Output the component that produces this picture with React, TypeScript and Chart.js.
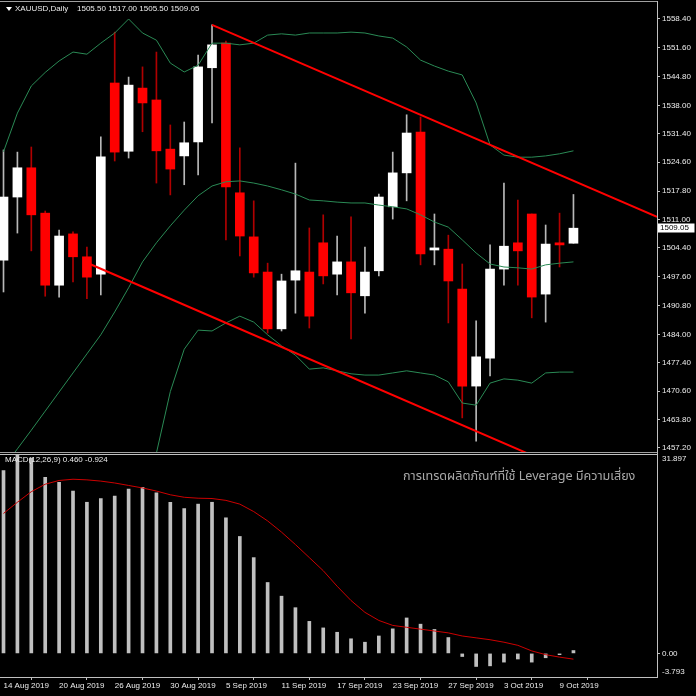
import React, { useEffect, useRef } from "react";
import { Chart, registerables } from "chart.js";

Chart.register(...registerables);

// ---------- data ----------
const dateTickIndex = [0, 4, 8, 12, 16, 20, 24, 28, 32, 36, 40];
const dateTickLabels = [
  "14 Aug 2019", "20 Aug 2019", "26 Aug 2019", "30 Aug 2019", "5 Sep 2019",
  "11 Sep 2019", "17 Sep 2019", "23 Sep 2019", "27 Sep 2019", "3 Oct 2019", "9 Oct 2019",
];

const opens = [
  1501.5, 1516.4, 1523.3, 1512.6, 1495.6, 1507.7, 1502.3, 1498.2, 1543.3, 1527.2,
  1542.1, 1539.3, 1527.7, 1526.1, 1529.4, 1546.9, 1552.7, 1517.4, 1507.0, 1498.7,
  1485.3, 1496.8, 1498.7, 1505.6, 1498.2, 1501.1, 1493.1, 1499.0, 1514.1, 1522.1,
  1531.7, 1503.9, 1504.1, 1494.7, 1471.8, 1478.4, 1499.4, 1505.6, 1512.4, 1493.5,
  1505.6, 1505.5,
];
const highs = [
  1527.5, 1527.0, 1528.2, 1513.1, 1508.6, 1508.2, 1504.6, 1530.6, 1555.3, 1544.7,
  1547.1, 1550.6, 1533.4, 1534.1, 1549.9, 1557.0, 1553.2, 1528.0, 1515.5, 1500.8,
  1498.2, 1524.4, 1509.1, 1512.2, 1507.2, 1511.7, 1504.6, 1517.1, 1527.0, 1535.8,
  1535.3, 1512.4, 1507.4, 1500.6, 1487.2, 1505.1, 1519.7, 1515.7, 1512.4, 1509.8,
  1512.6, 1517.0,
];
const lows = [
  1494.0, 1507.9, 1503.7, 1493.0, 1492.8, 1496.4, 1492.4, 1493.3, 1524.9, 1525.6,
  1531.8, 1519.7, 1516.9, 1519.3, 1521.6, 1533.9, 1506.3, 1502.5, 1497.5, 1484.3,
  1484.8, 1489.0, 1485.5, 1495.9, 1493.3, 1482.9, 1489.0, 1497.8, 1511.2, 1515.5,
  1500.4, 1500.4, 1486.7, 1464.3, 1458.8, 1474.2, 1495.6, 1495.6, 1487.9, 1486.9,
  1499.9, 1505.5,
];
const closes = [
  1516.4, 1523.3, 1512.2, 1495.6, 1507.2, 1502.3, 1497.5, 1525.9, 1527.0, 1542.8,
  1538.6, 1527.3, 1523.0, 1529.2, 1547.1, 1552.3, 1518.8, 1507.2, 1498.5, 1485.3,
  1496.6, 1499.0, 1488.3, 1497.8, 1501.1, 1493.8, 1498.7, 1516.4, 1522.1, 1531.5,
  1503.0, 1504.4, 1496.6, 1471.8, 1478.7, 1499.4, 1504.8, 1503.7, 1492.8, 1505.3,
  1505.1, 1509.05,
];

const bbUpper = [
  1527.1, 1536.2, 1542.6, 1545.8, 1548.5, 1550.6, 1550.1, 1552.7, 1555.1, 1558.4,
  1555.1, 1553.4, 1548.0, 1545.9, 1547.5, 1552.7, 1552.7, 1552.3, 1552.7, 1554.6,
  1554.9, 1554.6, 1555.1, 1555.1, 1555.1, 1555.3, 1555.1, 1554.4, 1553.9, 1551.8,
  1548.7, 1547.3, 1546.1, 1545.2, 1538.6, 1528.7, 1526.3, 1525.8, 1525.8, 1526.1,
  1526.6, 1527.3,
];
const bbMiddle = [
  1452.5, 1457.0, 1461.4, 1465.9, 1470.4, 1474.9, 1479.4, 1483.9, 1489.3, 1495.0,
  1501.1, 1505.6, 1509.6, 1513.3, 1516.7, 1519.0, 1520.0, 1520.2, 1519.7, 1519.0,
  1518.1, 1517.1, 1515.7, 1515.5, 1515.2, 1515.0, 1515.0, 1514.5, 1514.1, 1513.6,
  1512.2, 1510.5, 1509.3, 1506.3, 1503.2, 1500.6, 1499.9, 1499.7, 1499.4, 1500.4,
  1500.8, 1501.1,
];
const bbLower: (number | null)[] = [
  null, null, null, null, null, null, null, null, null, null,
  1435.5, 1456.0, 1470.5, 1480.5, 1485.0, 1484.8, 1486.7, 1488.3, 1486.9, 1483.9,
  1481.3, 1479.1, 1475.8, 1476.1, 1475.4, 1474.7, 1474.4, 1474.4, 1474.9, 1475.4,
  1474.9, 1474.4, 1472.8, 1467.8, 1467.3, 1472.5, 1473.5, 1473.2, 1472.5, 1474.9,
  1475.1, 1475.1,
];

const channelUpperBars = [15, 47.01];
const channelUpperPrices = [1557.0, 1511.75];
const channelLowerBars = [6, 47.01];
const channelLowerPrices = [1500.9, 1442.7];

const macdMain = [
  29.4, 31.897, 31.4, 28.3, 27.5, 26.1, 24.3, 24.9, 25.3, 26.4,
  26.7, 25.8, 24.3, 23.3, 24.0, 24.3, 21.8, 18.8, 15.4, 11.4,
  9.2, 7.35, 5.15, 4.1, 3.4, 2.35, 1.8, 2.8, 3.95, 5.7,
  4.7, 3.85, 2.55, -0.5, -2.1, -2.0, -1.4, -0.9, -1.4, -0.7,
  -0.2, 0.46,
];
const macdSignal = [
  22.5, 24.3, 26.0, 27.2, 27.8, 28.0, 27.9, 27.7, 27.4, 27.0,
  26.6, 26.1, 25.5, 25.1, 24.95, 24.9, 24.6, 24.0, 22.8, 21.3,
  19.5, 17.5, 15.4, 13.3, 10.8, 8.5, 6.6, 5.3, 4.5, 4.2,
  3.9, 3.6, 3.3, 2.8, 2.5, 2.2, 1.8, 1.3, 0.4, -0.2,
  -0.6, -0.924,
];

const priceTicks = [
  1558.4, 1551.6, 1544.8, 1538.0, 1531.4, 1524.6, 1517.8, 1511.0,
  1504.4, 1497.6, 1490.8, 1484.0, 1477.4, 1470.6, 1463.8, 1457.2,
];
const macdTickLabels = ["31.897", "0.00", "-3.793"];

// ---------- layout constants ----------
const X_MIN = -0.252;
const X_MAX = 47.01;
const PRICE_MAX = 1562.41;
const PRICE_MIN = 1456.25;
const MACD_MAX = 31.897;
const MACD_MIN = -3.793;
const MACD_AREA_H = 222;
const AXIS_W = 39;
const FONT = '"Liberation Sans", Arial, sans-serif';
const TXT = "#ececec";
const AXIS_C = "#c0c0c0";

const idx = closes.map((_, i) => i);
const isBull = (i: number) => closes[i] >= opens[i];

const fixRightAxis = (s: any) => {
  s.width = AXIS_W;
  s.paddingTop = 0;
  s.paddingBottom = 0;
};

const lastPricePlugin = {
  id: "lastPrice",
  afterDraw(chart: any) {
    const last = closes[closes.length - 1];
    const y = chart.scales.y.getPixelForValue(last);
    const x0 = chart.chartArea.right;
    const ctx = chart.ctx;
    ctx.save();
    ctx.fillStyle = "#ffffff";
    ctx.fillRect(x0 + 0.5, Math.round(y) - 4.5, 37, 9);
    ctx.fillStyle = "#000000";
    ctx.font = `8px ${FONT}`;
    ctx.textBaseline = "middle";
    ctx.textAlign = "left";
    ctx.fillText(last.toFixed(2), x0 + 3, Math.round(y));
    ctx.restore();
  },
};

export default function App() {
  const mainRef = useRef<HTMLCanvasElement>(null);
  const macdRef = useRef<HTMLCanvasElement>(null);

  useEffect(() => {
    const main = new Chart(mainRef.current as HTMLCanvasElement, {
      type: "bar",
      data: {
        datasets: [
          {
            type: "bar",
            data: idx.map((i) => ({ x: i, y: [opens[i], closes[i]] })) as any,
            backgroundColor: idx.map((i) => (isBull(i) ? "#ffffff" : "#ff0000")),
            barThickness: 9,
            minBarLength: 2,
            grouped: false,
            borderWidth: 0,
            order: 2,
          } as any,
          {
            type: "bar",
            data: idx.map((i) => ({ x: i, y: [lows[i], highs[i]] })) as any,
            backgroundColor: idx.map((i) => (isBull(i) ? "#b8b8b8" : "#b00000")),
            barThickness: 1,
            grouped: false,
            borderWidth: 0,
            order: 3,
          } as any,
          {
            type: "line",
            data: idx.map((i) => ({ x: i, y: bbUpper[i] })),
            borderColor: "#2a8a55",
            borderWidth: 1,
            pointRadius: 0,
            order: 1,
          } as any,
          {
            type: "line",
            data: idx.map((i) => ({ x: i, y: bbMiddle[i] })),
            borderColor: "#2a8a55",
            borderWidth: 1,
            pointRadius: 0,
            order: 1,
          } as any,
          {
            type: "line",
            data: idx.map((i) => ({ x: i, y: bbLower[i] })),
            borderColor: "#2a8a55",
            borderWidth: 1,
            pointRadius: 0,
            spanGaps: false,
            order: 1,
          } as any,
          {
            type: "line",
            data: channelUpperBars.map((b, k) => ({ x: b, y: channelUpperPrices[k] })),
            borderColor: "#ff0000",
            borderWidth: 2,
            pointRadius: 0,
            order: 0,
          } as any,
          {
            type: "line",
            data: channelLowerBars.map((b, k) => ({ x: b, y: channelLowerPrices[k] })),
            borderColor: "#ff0000",
            borderWidth: 2,
            pointRadius: 0,
            order: 0,
          } as any,
        ],
      },
      options: {
        animation: false,
        responsive: false,
        maintainAspectRatio: false,
        events: [],
        layout: { padding: 0 },
        plugins: { legend: { display: false }, tooltip: { enabled: false } },
        scales: {
          x: { type: "linear", display: false, min: X_MIN, max: X_MAX, offset: false },
          y: {
            type: "linear",
            position: "right",
            min: PRICE_MIN,
            max: PRICE_MAX,
            afterBuildTicks: (s: any) => {
              s.ticks = priceTicks.map((v) => ({ value: v }));
            },
            afterFit: fixRightAxis,
            grid: { drawOnChartArea: false, color: AXIS_C, tickLength: 3 },
            border: { color: AXIS_C },
            ticks: {
              autoSkip: false,
              color: TXT,
              padding: 2,
              font: { family: FONT, size: 8 },
              callback: (v: any) => Number(v).toFixed(2),
            },
          },
        },
      } as any,
      plugins: [lastPricePlugin],
    });

    const unit = (MACD_MAX - MACD_MIN) / MACD_AREA_H;
    const macdTickValues = [MACD_MAX - 4 * unit, 0, MACD_MIN + 5 * unit];

    const macd = new Chart(macdRef.current as HTMLCanvasElement, {
      type: "bar",
      data: {
        datasets: [
          {
            type: "line",
            data: idx.map((i) => ({ x: i, y: macdSignal[i] })),
            borderColor: "#cc0000",
            borderWidth: 1,
            pointRadius: 0,
            order: 0,
          } as any,
          {
            type: "bar",
            data: idx.map((i) => ({ x: i, y: macdMain[i] })),
            backgroundColor: "#c0c0c0",
            barThickness: 3,
            grouped: false,
            borderWidth: 0,
            order: 1,
          } as any,
        ],
      },
      options: {
        animation: false,
        responsive: false,
        maintainAspectRatio: false,
        events: [],
        layout: { padding: 0 },
        plugins: { legend: { display: false }, tooltip: { enabled: false } },
        scales: {
          x: {
            type: "linear",
            position: "bottom",
            min: X_MIN,
            max: X_MAX,
            offset: false,
            afterBuildTicks: (s: any) => {
              s.ticks = dateTickIndex.map((v) => ({ value: v }));
            },
            afterFit: (s: any) => {
              s.height = 18;
              s.paddingLeft = 0;
              s.paddingRight = 0;
            },
            grid: { drawOnChartArea: false, color: AXIS_C, tickLength: 3 },
            border: { color: AXIS_C },
            ticks: {
              autoSkip: false,
              maxRotation: 0,
              minRotation: 0,
              align: "start",
              padding: 1,
              color: TXT,
              font: { family: FONT, size: 8 },
              callback: (_v: any, i: number) => dateTickLabels[i],
            },
          },
          y: {
            type: "linear",
            position: "right",
            min: MACD_MIN,
            max: MACD_MAX,
            afterBuildTicks: (s: any) => {
              s.ticks = macdTickValues.map((v) => ({ value: v }));
            },
            afterFit: fixRightAxis,
            grid: {
              drawOnChartArea: false,
              tickLength: 3,
              color: (c: any) => (c.index === 1 ? AXIS_C : "rgba(0,0,0,0)"),
            },
            border: { color: AXIS_C },
            ticks: {
              autoSkip: false,
              color: TXT,
              padding: 2,
              font: { family: FONT, size: 8 },
              callback: (_v: any, i: number) => macdTickLabels[i],
            },
          },
        },
      } as any,
    });

    return () => {
      main.destroy();
      macd.destroy();
    };
  }, []);

  const abs: React.CSSProperties = { position: "absolute" };
  const txt: React.CSSProperties = {
    position: "absolute",
    fontFamily: FONT,
    fontSize: 8,
    lineHeight: "10px",
    color: TXT,
    whiteSpace: "pre",
  };

  return (
    <div
      style={{
        position: "fixed",
        left: 0,
        top: 0,
        width: 696,
        height: 696,
        background: "#000",
        overflow: "hidden",
      }}
    >
      <canvas
        ref={mainRef}
        width={696}
        height={450}
        style={{ ...abs, left: 0, top: 2, width: 696, height: 450 }}
      />
      <canvas
        ref={macdRef}
        width={696}
        height={240}
        style={{ ...abs, left: 0, top: 455, width: 696, height: 240 }}
      />
      {/* frame lines */}
      <div style={{ ...abs, left: 0, top: 1, width: 658, height: 1, background: "#a0a0a0" }} />
      <div style={{ ...abs, left: 0, top: 452, width: 658, height: 1, background: "#a0a0a0" }} />
      <div style={{ ...abs, left: 0, top: 454, width: 658, height: 1, background: "#c0c0c0" }} />
      <div style={{ ...abs, left: 657, top: 1, width: 1, height: 677, background: AXIS_C }} />
      {/* title */}
      <div
        style={{
          ...abs,
          left: 6,
          top: 7,
          width: 0,
          height: 0,
          borderLeft: "3px solid transparent",
          borderRight: "3px solid transparent",
          borderTop: "4px solid #ffffff",
        }}
      />
      <div style={{ ...txt, left: 15, top: 4 }}>XAUUSD,Daily</div>
      <div style={{ ...txt, left: 77, top: 4 }}>1505.50 1517.00 1505.50 1509.05</div>
      <div style={{ ...txt, left: 5, top: 455 }}>MACD(12,26,9) 0.460 -0.924</div>
      <div
        style={{
          ...abs,
          left: 403,
          top: 468,
          fontFamily: '"Noto Sans Thai", Tahoma, Loma, Garuda, "Noto Sans", "DejaVu Sans", sans-serif',
          fontSize: 12.6,
          lineHeight: "18px",
          color: "#a8a8a8",
          whiteSpace: "pre",
        }}
      >
        การเทรดผลิตภัณฑ์ที่ใช้ Leverage มีความเสี่ยง
      </div>
    </div>
  );
}
